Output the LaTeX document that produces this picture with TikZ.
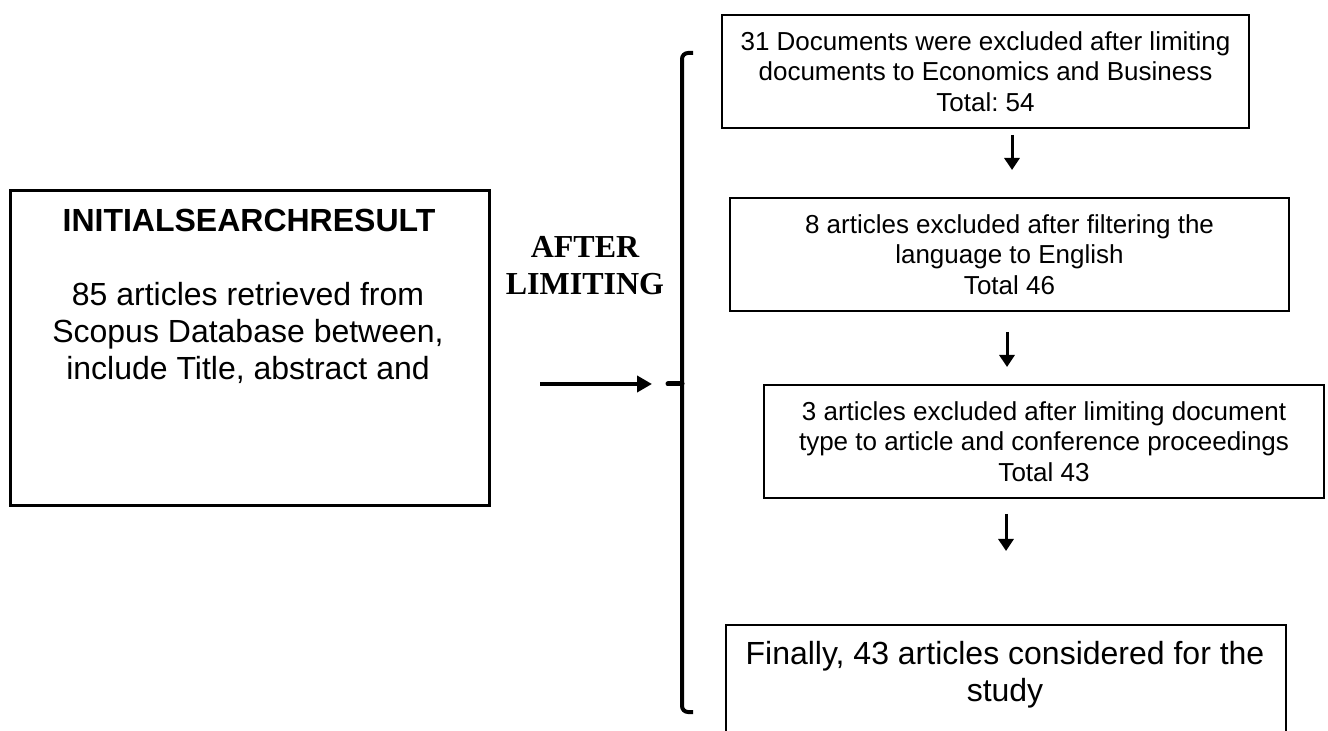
\documentclass[tikz,border=0pt]{standalone}
\usepackage{fontspec}
\setmainfont{Liberation Sans}
\newfontfamily\timesfont{Liberation Serif}
\usetikzlibrary{arrows.meta,positioning}
\frenchspacing
\tikzset{
	flowbox/.style={draw, line width=1pt, align=center, inner sep=0pt, anchor=north west,
		minimum height=56.5pt, font=\fontsize{13}{15.25}\selectfont},
	steparrow/.style={line width=1.5pt, -{Triangle[length=6pt,width=7.5pt]}},
	limitarrow/.style={line width=2pt, -{Triangle[length=7.5pt,width=8pt]}},
	bracketline/.style={line width=2pt, rounded corners=3pt},
}
\begin{document}
\begin{tikzpicture}[x=0.5pt,y=-0.5pt]
	\clip (0,0) rectangle (1328,731);
	% initial search
	\node[draw, line width=1.5pt, anchor=north west, minimum width=239.5pt, minimum height=157.5pt] (initbox) at (9,189) {};
	\node[anchor=base, font=\bfseries\fontsize{16}{18.5}\selectfont] (inittitle) at (249,232) {INITIALSEARCHRESULT};
	\node[anchor=north, align=center, inner sep=0pt, font=\fontsize{16}{18.5}\selectfont] (inittext) at (248,282) {85 articles retrieved from\\Scopus Database between,\\include Title, abstract and};
	\node[align=center, font=\timesfont\bfseries\fontsize{16}{18.5}\selectfont] (limiting) at (585,266) {AFTER\\LIMITING};
	% screening steps
	\node[flowbox, minimum width=263.5pt] (docs) at (721,14) {31 Documents were excluded after limiting\\documents to Economics and Business\\Total: 54};
	\node[flowbox, minimum width=279.5pt] (lang) at (729,197) {8 articles excluded after filtering the\\language to English\\Total 46};
	\node[flowbox, minimum width=280pt] (type) at (763,384) {3 articles excluded after limiting document\\type to article and conference proceedings\\Total 43};
	\node[flowbox, minimum width=280pt, minimum height=80pt] (finalbox) at (725,624) {};
	\node[align=center, font=\fontsize{16}{18.5}\selectfont] (final) at (1005,675) {Finally, 43 articles considered for the\\study};
	% bracket
	\coordinate (nib) at (668,384);
	\draw[bracketline] (693,53) -- (682,53) -- (682,712) -- (693,712);
	\draw[line width=2.5pt, line cap=round] (682,384) -- (nib);
	\coordinate (limitstart) at (540,384);
	\coordinate (limitend) at (652,384);
	\draw[limitarrow] (limitstart) -- (limitend);
	% arrows between steps
	\coordinate (s1) at (1012,135); \coordinate (e1) at (1012,170);
	\coordinate (s2) at (1007,332); \coordinate (e2) at (1007,367);
	\coordinate (s3) at (1006,514); \coordinate (e3) at (1006,551);
	\foreach \i in {1,2,3}
		\draw[steparrow] (s\i) -- (e\i);
\end{tikzpicture}
\end{document}
